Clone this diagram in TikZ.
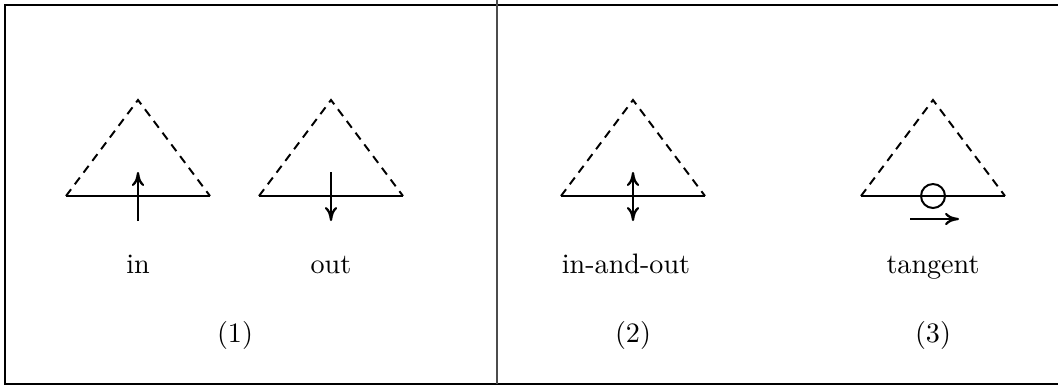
\documentclass[tikz,border=0pt]{standalone}
\usetikzlibrary{arrows.meta}
\tikzset{
  side/.style={line width=0.7pt,dash pattern=on 3pt off 2.2pt},
  base/.style={line width=0.8pt},
  flow/.style={-{To[length=5pt,width=4.4pt]},line width=0.8pt},
  frameline/.style={line width=0.7pt},
  divline/.style={line width=0.4pt,black!70},
  lbl/.style={inner sep=0pt,anchor=base}
}

\begin{document}
\begin{tikzpicture}[x=0.0125cm,y=-0.0125cm]
\useasboundingbox (0,0) rectangle (1058,387);

% Frame and divider
\coordinate (TL) at (5,5);
\coordinate (TR) at (1058,5);
\coordinate (BL) at (5,384);
\coordinate (BR) at (1058,384);
\coordinate (DT) at (497,0);
\coordinate (DB) at (497,384);
\draw[frameline] (TR) -- (TL) -- (BL) -- (BR);
\draw[divline] (DT) -- (DB);

% Triangles: apex and base corners
\foreach \n/\x in {A/138,B/331,C/633,D/933}
{
  \coordinate (\n top) at (\x,100);
  \coordinate (\n l) at (\x-72,196);
  \coordinate (\n r) at (\x+72,196);
  \draw[side] (\n l) -- (\n top) -- (\n r);
  \draw[base] (\n l) -- (\n r);
}

% in
\coordinate (A1) at (138,221);
\coordinate (A2) at (138,172);
\draw[flow] (A1) -- (A2);

% out
\coordinate (B1) at (331,172);
\coordinate (B2) at (331,221);
\draw[flow] (B1) -- (B2);

% in-and-out
\coordinate (C1) at (633,172);
\coordinate (C2) at (633,221);
\draw[flow,{To[length=5pt,width=4.4pt]}-{To[length=5pt,width=4.4pt]}] (C1) -- (C2);

% tangent
\node[circle,draw,line width=0.7pt,minimum size=24*0.0125cm,inner sep=0pt] (D0) at (933,196) {};
\coordinate (D1) at (910,219);
\coordinate (D2) at (959,219);
\draw[flow] (D1) -- (D2);

% Labels
\node[lbl] (inL) at (138,273) {in};
\node[lbl] (outL) at (331,273) {out};
\node[lbl] (ioL) at (626,273) {in-and-out};
\node[lbl] (tanL) at (933,273) {tangent};
\node[lbl] (n1) at (235,342) {(1)};
\node[lbl] (n2) at (633,342) {(2)};
\node[lbl] (n3) at (933,342) {(3)};

\end{tikzpicture}
\end{document}
